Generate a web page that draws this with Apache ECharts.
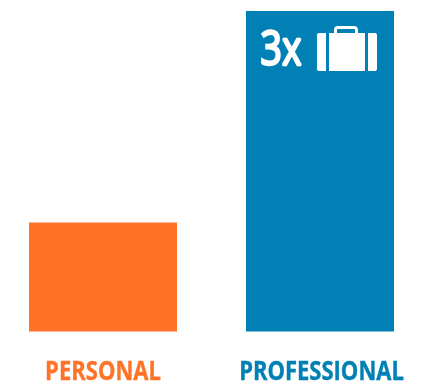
<!DOCTYPE html>
<html>
<head>
<meta charset="utf-8">
<style>html,body{margin:0;padding:0;background:#fff}#chart{width:436px;height:381px}</style>
<script src="https://cdn.jsdelivr.net/npm/echarts@6/dist/echarts.min.js"></script>
</head>
<body>
<div id="chart"></div>
<script>
const categories = ['PERSONAL', 'PROFESSIONAL'];
const values = [1.02, 3];
const barColors = ['#FF7328', '#0080B4'];
const multiplierLabel = '3x';
const calloutLevel = 2.65;

// Briefcase in a 60x45 box: two side panels, body, handle
const briefcase = 'path://M0 9Q0 7 2 7H9V45H2Q0 45 0 43Z' +
  'M60 9Q60 7 58 7H51V45H58Q60 45 60 43Z' +
  'M12 7H48V45H12Z' +
  'M17 7V4Q17 0 21 0H37Q41 0 41 4V7H38V4Q38 3 37 3H21Q20 3 20 4V7Z';

const condensedText = (text, x, y, fill, fontSize, scaleX, fontWeight, strokeWidth) => ({
  type: 'text',
  x, y, scaleX,
  style: {
    text, fill, fontSize, fontWeight,
    fontFamily: '"Open Sans", sans-serif',
    stroke: fill,
    lineWidth: strokeWidth,
    align: 'center',
    verticalAlign: 'middle'
  }
});

const chart = echarts.init(document.getElementById('chart'), null, { renderer: 'canvas' });
chart.setOption({
  animation: false,
  grid: { left: -5.5, right: 7.5, top: 11, bottom: 49.5, outerBoundsMode: 'none', containLabel: false },
  xAxis: {
    type: 'category',
    data: categories,
    axisLine: { show: false },
    axisTick: { show: false },
    axisLabel: { show: false }
  },
  yAxis: { type: 'value', min: 0, max: 3, show: false },
  series: [{
    type: 'bar',
    z: 2,
    barWidth: 148,
    data: values.map((v, i) => ({ value: v, itemStyle: { color: barColors[i] } })),
    markPoint: {
      silent: true,
      data: [{
        coord: [categories[1], calloutLevel],
        symbol: briefcase,
        symbolSize: [60, 45],
        symbolOffset: [27, 0],
        itemStyle: { color: '#fff' },
        label: { show: false }
      }]
    }
  }, {
    // Condensed category names under the bars
    type: 'custom',
    z: 6,
    silent: true,
    data: categories.map((_, i) => [i, 0]),
    renderItem(params, api) {
      const p = api.coord([api.value(0), 0]);
      const i = params.dataIndex;
      return condensedText(categories[i], p[0] + (i ? 1.5 : 0), p[1] + 41, barColors[i], 26.5, 0.83, 'bold', 0.4);
    }
  }, {
    // Multiplier beside the briefcase
    type: 'custom',
    z: 6,
    silent: true,
    data: [[1, calloutLevel]],
    renderItem(params, api) {
      const p = api.coord([api.value(0), api.value(1)]);
      return condensedText(multiplierLabel, p[0] - 39, p[1] + 3, '#fff', 48, 0.78, 'normal', 2.6);
    }
  }]
});
</script>
</body>
</html>
